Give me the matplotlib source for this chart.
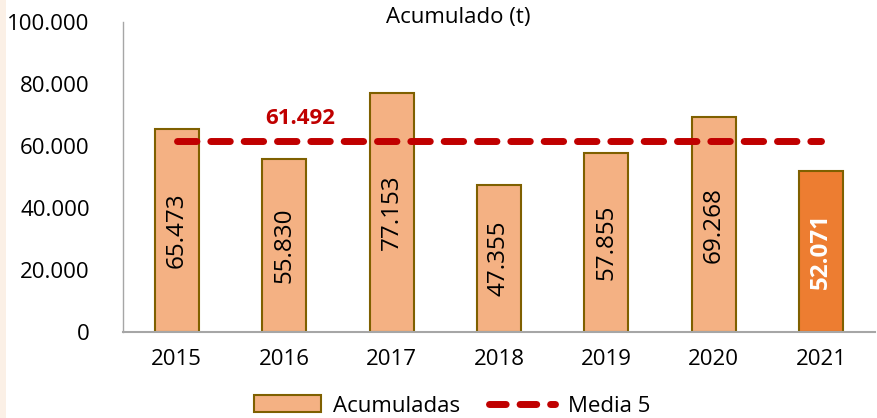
import matplotlib
matplotlib.use("Agg")
import matplotlib.pyplot as plt
from matplotlib.patches import Rectangle
from matplotlib.lines import Line2D

years = ["2015", "2016", "2017", "2018", "2019", "2020", "2021"]
values = [65473, 55830, 77153, 47355, 57855, 69268, 52071]
mean5 = 61492
yticks = [0, 20000, 40000, 60000, 80000, 100000]

def fmt(v):
    return f"{v:,}".replace(",", ".")

plt.rcParams['font.family'] = ['Open Sans', 'DejaVu Sans']
FS = 16

fig = plt.figure(figsize=(8.77, 4.18), dpi=100)
fig.patch.set_facecolor("white")
fig.add_artist(Rectangle((0, 0), 6/877, 1, transform=fig.transFigure,
                         facecolor="#FBF0E6", edgecolor="none"))
ax = fig.add_axes([123/877, 1 - 332/418, (875 - 123)/877, (332 - 22)/418])

x = list(range(len(years)))
colors = ["#F4B183"] * (len(years) - 1) + ["#ED7D31"]
ax.bar(x, values, width=0.41, color=colors, edgecolor="#7F6000", linewidth=1.5, zorder=2)

ax.plot([x[0], x[-1]], [mean5, mean5], color="#C00000", linewidth=5,
        dashes=(2.8, 2.0), dash_capstyle="round", zorder=3)

for i, v in enumerate(values):
    last = i == len(values) - 1
    ax.text(i, v / 2, fmt(v), rotation=90, ha="center", va="center",
            fontsize=17.5, color="white" if last else "black",
            fontweight="bold" if last else "normal", zorder=4)

ax.text(1.15, mean5 + 4000, fmt(mean5), ha="center", va="bottom",
        fontsize=FS, color="#C00000", fontweight="bold")

ax.set_xlim(-0.5, 6.5)
ax.set_ylim(0, 100000)
ax.set_yticks(yticks)
ax.set_yticklabels([fmt(t) for t in yticks], fontsize=FS)
ax.set_xticks(x)
ax.set_xticklabels(years, fontsize=FS)
ax.tick_params(length=0, pad=12)
ax.tick_params(axis="y", pad=24)
for s in ["top", "right"]:
    ax.spines[s].set_visible(False)
ax.spines["left"].set_color("#A6A6A6")
ax.spines["bottom"].set_color("#A6A6A6")
ax.spines["left"].set_linewidth(1)
ax.spines["bottom"].set_linewidth(1.5)

fig.text(458/877, 1 - 17/418, "Acumulado (t)", ha="center", va="center", fontsize=FS)

handles = [Rectangle((0, 0), 1, 1, facecolor="#F4B183", edgecolor="#7F6000", linewidth=1.5),
           Line2D([0], [0], color="#C00000", linewidth=5, dashes=(2.4, 2.0), dash_capstyle="round")]
fig.legend(handles, ["Acumuladas", "Media 5"], loc="center", bbox_to_anchor=(452/877, 1 - 406/418),
           ncol=2, frameon=False, fontsize=FS, handlelength=3.0, handleheight=0.8,
           columnspacing=1.3, handletextpad=0.55)

fig.savefig("out.png", dpi=100, facecolor="white")
